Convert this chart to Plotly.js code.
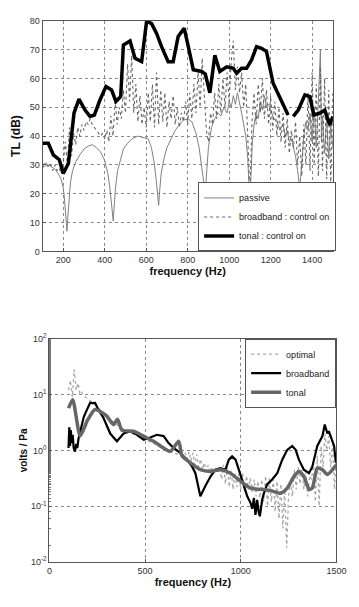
<!DOCTYPE html>
<html><head><meta charset="utf-8">
<script src="https://cdn.plot.ly/plotly-3.0.1.min.js"></script>
<style>html,body{margin:0;padding:0;background:#fff}</style>
</head><body><div id="chart" style="width:359px;height:607px"></div>
<script>
// ---------- top chart: transmission loss ----------
const passiveFreq = [100,110,120,130,140,150,160,170,180,190,200,205,210,215,218,222,228,235,245,260,280,300,320,340,360,380,400,415,425,432,437,441,445,452,462,475,490,510,530,560,590,610,625,638,648,655,660,665,672,685,700,720,740,760,780,800,820,840,855,868,878,885,892,900,915,930,945,960,975,990,1000,1010,1020,1030,1040,1050,1060,1070,1080,1090,1095,1100,1105,1112,1120,1130,1140,1150,1160,1170,1180,1190,1200,1215,1230,1245,1260,1270,1280,1290,1300,1310,1320,1330,1340,1345,1352,1360,1370,1380,1390,1400,1410,1420,1430,1440,1445,1450,1460,1470,1480,1490,1500];
const passiveTL = [30,30.5,29.5,30,29.5,29,28.5,27.5,26.5,25,22,19,15,9,7,12,19,24,28,31,33.5,35.5,36.5,37,36,34.5,31.5,27,22,16,12,10.5,15,22,28,32,35.5,37.5,39,40,39.5,39,36,31,25,19,16,21,27,32,36,39,42,44,45.5,46,45,41,36,29,23,20,28,36,43,46,48,47,50,48,52,50,54,51,55,52,48,44,40,32,25,15,26,38,44,48,46,52,49,54,50,51,49,46,45,42,44,40,42,38,39,36,33,28,22,26,34,40,45,42,48,38,50,36,52,70,38,47,34,46,32,44,36];
// broadband: control on, sampled every 10 Hz from 100 Hz
const broadbandTL = [30,29,31,29,30,28,30,28,29,27,31,38,30,43,33,41,37,43,40,44,42,45,44,46,44,43,42,41,40,41,39,42,38,47,40,52,44,50,46,56,48,65,52,68,48,58,45,54,44,50,43,55,45,58,43,62,44,56,45,55,43,52,46,54,44,50,43,48,45,52,44,55,46,58,48,62,50,67,52,42,38,48,44,55,46,58,48,60,50,62,52,66,73,56,64,55,62,50,58,35,20,45,55,44,58,48,60,46,56,44,54,42,52,40,50,38,48,36,46,34,42,36,45,30,40,26,44,30,55,28,62,30,58,26,64,28,60,25,56,23,55];
const tonalFreq = [100,128,152,181,200,225,252,276,305,329,350,377,406,433,454,477,490,522,546,578,602,626,650,674,706,730,754,783,803,827,867,885,907,931,955,988,1020,1036,1060,1084,1108,1132,1156,1180,1212,1244,1284,1296,1309,1333,1365,1389,1408,1437,1461,1485,1500];
const tonalTL = [37.5,37.5,33.5,31.8,27,30.6,48,52.8,49,46.8,47.3,52.5,57.2,56,52,53.7,71.6,73,67,65.8,79.9,79,75.6,71,65.8,65.8,74.5,77.4,71,63,62.4,61.5,55,68,62.4,64,63.5,61.8,63.5,63.5,66.4,71,70.4,69.3,58.3,53.7,47.3,null,46.8,49,54.3,53.7,47.3,47.9,49,43.9,46.8];
const topXTicks = [200,400,600,800,1000,1200,1400];

// ---------- bottom chart: volts / Pa ----------
// optimal, sampled every 10 Hz from 100 Hz
const optimalVPa = [12,18,9,28,12,16,10,11,9.5,9,8.5,8,7.5,7,6.5,6,5.6,5.2,4.8,4.4,4.1,3.8,3.5,3.3,3.1,2.9,2.8,2.6,2.5,2.4,2.3,2.2,2.1,2.0,1.9,1.85,1.8,1.7,1.65,1.6,1.55,1.5,1.45,1.4,1.35,1.3,1.25,1.2,1.15,1.1,1.08,1.05,1.0,0.97,0.94,0.9,0.88,0.85,0.82,0.8,0.78,0.9,0.7,0.95,0.65,0.9,0.55,0.85,0.5,0.7,0.45,0.6,0.42,0.55,0.4,0.5,0.42,0.48,0.4,0.5,0.3,0.55,0.25,0.5,0.22,0.45,0.2,0.4,0.22,0.38,0.2,0.4,0.18,0.35,0.2,0.32,0.18,0.3,0.15,0.28,0.14,0.3,0.12,0.35,0.1,0.32,0.12,0.3,0.08,0.28,0.06,0.25,0.04,0.2,0.018,0.15,0.3,0.15,0.45,0.2,0.5,0.25,0.45,0.2,0.4,0.15,0.35,0.3,0.6,0.12,0.8,0.1,1.2,0.5,2.0,1.0,1.8,0.5,1.3,0.2,0.9];
const bbFreq = [100,104,108,112,117,122,127,134,140,146,152,165,180,196,213,225,239,257,283,318,353,388,423,458,493,527,562,597,623,650,684,719,746,763,789,815,842,868,894,920,938,955,973,990,1008,1034,1051,1060,1069,1077,1086,1093,1100,1112,1121,1138,1164,1191,1217,1243,1269,1287,1304,1330,1357,1374,1400,1427,1439,1447,1453,1460,1470,1480,1488,1497,1500];
const bbVPa = [1.1,2.6,1.2,2.3,1.35,1.9,1.1,0.95,1.3,1.1,1.6,2.6,4.0,5.3,7.1,7.0,7.1,5.3,3.8,2.0,1.45,2.0,2.2,1.9,1.55,1.7,1.9,1.8,1.35,1.1,0.9,0.68,0.51,0.39,0.15,0.23,0.34,0.45,0.48,0.45,0.68,0.78,0.68,0.45,0.28,0.15,0.115,0.09,0.14,0.07,0.13,0.08,0.066,0.13,0.17,0.245,0.3,0.39,0.68,1.02,1.2,1.02,0.68,0.45,0.39,0.51,1.2,1.8,2.9,2.2,2.0,2.2,1.8,1.5,1.2,0.6,0.9];
const tonalFreqB = [100,122,161,200,239,300,335,356,379,440,492,545,597,632,676,693,737,789,842,894,946,999,1051,1104,1156,1208,1243,1278,1304,1330,1357,1374,1400,1427,1453,1479,1500];
const tonalVPa = [5.7,8.1,1.8,3.5,5.4,4.1,2.9,3.6,2.3,2.2,1.8,1.45,1.1,0.96,1.45,0.8,0.6,0.45,0.42,0.45,0.39,0.28,0.21,0.2,0.19,0.17,0.21,0.34,0.42,0.34,0.2,0.21,0.48,0.45,0.37,0.45,0.55];
const bottomXTicks = [0,500,1000,1500];
const logTickVals = [0.01,0.1,1,10,100];
const logTickText = ['10<sup>-2</sup>','10<sup>-1</sup>','10<sup>0</sup>','10<sup>1</sup>','10<sup>2</sup>'];

const FONT = 'Liberation Sans, Arial, sans-serif';
const gridStyle = {showgrid:true, gridcolor:'#8a8a8a', griddash:'dot', gridwidth:1,
  showline:true, linecolor:'#555', linewidth:1, mirror:true, zeroline:false,
  ticks:'inside', ticklen:3, tickcolor:'#555', tickfont:{family:FONT,size:9,color:'#333'}};

const traces = [
  {x:passiveFreq, y:passiveTL, type:'scatter', mode:'lines', name:'passive',
   line:{color:'#808080', width:1}, xaxis:'x', yaxis:'y', legend:'legend'},
  {x0:100, dx:10, y:broadbandTL, type:'scatter', mode:'lines', name:'broadband : control on',
   line:{color:'#666', width:1.1, dash:'dot'}, xaxis:'x', yaxis:'y', legend:'legend'},
  {x:tonalFreq, y:tonalTL, type:'scatter', mode:'lines', name:'tonal : control on',
   line:{color:'#000', width:3.5}, connectgaps:false, xaxis:'x', yaxis:'y', legend:'legend'},
  {x0:100, dx:10, y:optimalVPa, type:'scatter', mode:'lines', name:'optimal',
   line:{color:'#a8a8a8', width:1.3, dash:'dot'}, xaxis:'x2', yaxis:'y2', legend:'legend2'},
  {x:bbFreq, y:bbVPa, type:'scatter', mode:'lines', name:'broadband',
   line:{color:'#000', width:2.2}, xaxis:'x2', yaxis:'y2', legend:'legend2'},
  {x:tonalFreqB, y:tonalVPa, type:'scatter', mode:'lines', name:'tonal', line:{shape:'spline', smoothing:0.6, color:'#666', width:3.5},
   xaxis:'x2', yaxis:'y2', legend:'legend2'}
];

const layout = {
  width:359, height:607, paper_bgcolor:'#fff', plot_bgcolor:'#fff',
  margin:{l:42, r:22, t:20, b:44.5},
  font:{family:FONT, color:'#222'},
  xaxis: Object.assign({}, gridStyle, {domain:[0.0017,0.986], anchor:'y', range:[100,1500],
    tickmode:'array', tickvals:topXTicks,
    title:{text:'<b>frequency (Hz)</b>', font:{family:FONT,size:11,color:'#111'}, standoff:3}}),
  yaxis: Object.assign({}, gridStyle, {domain:[0.573,0.9987], anchor:'x', range:[0,80], dtick:10,
    title:{text:'<b>TL (dB)</b>', font:{family:FONT,size:12,color:'#111'}, standoff:6}}),
  xaxis2: Object.assign({}, gridStyle, {domain:[0.025,0.998], anchor:'y2', range:[0,1500],
    tickmode:'array', tickvals:bottomXTicks,
    title:{text:'<b>frequency (Hz)</b>', font:{family:FONT,size:11,color:'#111'}, standoff:3}}),
  yaxis2: Object.assign({}, gridStyle, {domain:[0,0.412], anchor:'x2', type:'log', range:[-2,2],
    tickmode:'array', tickvals:logTickVals, ticktext:logTickText,
    minor:{ticks:'inside', ticklen:2, tickcolor:'#777', showgrid:false},
    title:{text:'<b>volts / Pa</b>', font:{family:FONT,size:10,color:'#111'}, standoff:1}}),
  legend:{x:0.997, y:0.573, xanchor:'right', yanchor:'bottom', bgcolor:'#fff',
    bordercolor:'#555', borderwidth:1, font:{family:FONT,size:9,color:'#222'},
    itemwidth:30, tracegroupgap:0},
  legend2:{x:0.997, y:0.412, xanchor:'right', yanchor:'top', bgcolor:'#fff',
    bordercolor:'#555', borderwidth:1, font:{family:FONT,size:9,color:'#222'},
    itemwidth:30, tracegroupgap:0},
  showlegend:true
};

Plotly.newPlot('chart', traces, layout, {staticPlot:true, displayModeBar:false});
</script>
</body></html>
